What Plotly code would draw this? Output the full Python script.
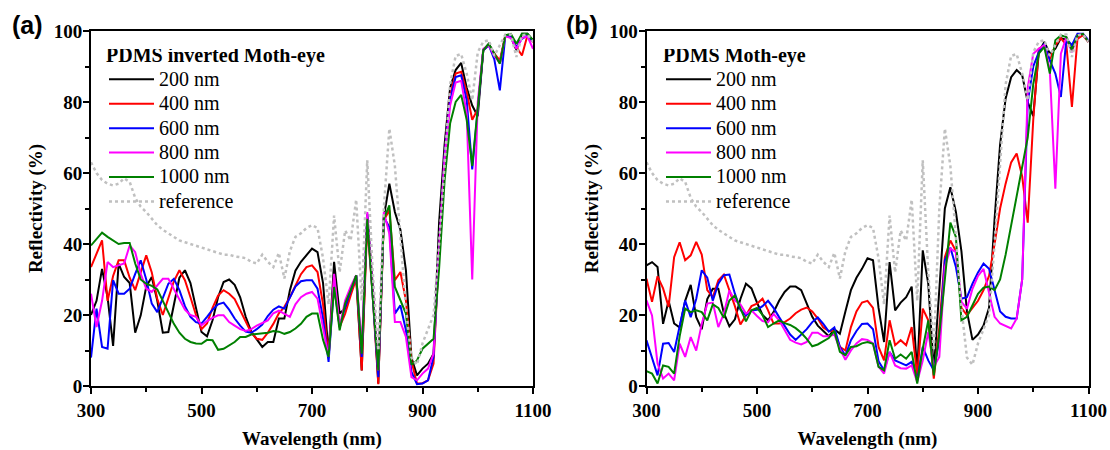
import plotly.graph_objects as go

wavelength = list(range(300, 1101, 10))

a_200 = [20, 24, 33, 25, 11.3, 34.5, 30.7, 29, 15, 19.9,
         28, 30.7, 24, 15, 15.2, 23, 30.5, 32.6, 29, 22,
         15.2, 14, 18.5, 25, 29.3, 30, 28.5, 25, 19.5, 15.3,
         13, 11, 12.4, 12.4, 19, 19, 27, 32.5, 35, 37,
         38.7, 37.7, 29, 9, 35, 20.4, 21.8, 26.5, 31.2, 4.4,
         48.5, 28, 0.7, 47.6, 57, 49, 44, 32.6, 8, 3,
         4.9, 6.3, 9.1, 46, 68, 84, 89, 91, 84, 79,
         76, 94.6, 96.4, 93.6, 91, 98.8, 98.3, 94.6, 99.2, 99.2,
         97.4]
a_400 = [33.5, 37, 41, 24, 31, 35.4, 35.4, 30.5, 27, 32,
         36.8, 32, 24.5, 20, 25, 29.5, 32.6, 29.8, 25, 20,
         16, 17.6, 22, 25.5, 27, 26, 24.5, 21.3, 18, 15,
         13.3, 13, 15, 17.5, 20.5, 22.3, 25, 28.5, 31.5, 33.5,
         34, 32.1, 23, 8, 30.7, 16.6, 20.4, 25.5, 30.2, 4.4,
         45.7, 25, 0.5, 46.7, 49.5, 29.8, 32.1, 24.1, 7, 0.7,
         0.8, 1.6, 6.3, 38, 65, 82, 88, 88.5, 82.8, 75,
         78, 94.6, 96, 93.6, 91.7, 98.8, 98.3, 95.5, 93.1, 98.8,
         96.9]
a_600 = [8, 21.8, 11, 10.5, 29.8, 26, 26, 27.4, 31.6, 35.4,
         30, 23.2, 20.8, 25, 28.8, 30.2, 27, 22.5, 19.5, 18,
         17.6, 19.5, 21.5, 23, 23.5, 21.5, 19, 17, 15.3, 15,
         16, 17.3, 19.7, 21.5, 22.4, 21.8, 25, 28, 29.5, 29.8,
         29.8, 27.4, 19, 6.8, 28.4, 16.6, 22.3, 27, 31.2, 8.2,
         48.5, 25, 2.5, 47.6, 44.8, 20.4, 22.7, 15.7, 4, 0.5,
         0.7, 1.6, 8.2, 38, 65, 81, 87, 87.5, 80.5, 61,
         78, 94.6, 96, 92, 83.3, 98.8, 98.3, 95.5, 97.8, 98.8,
         97]
a_800 = [26, 16.6, 24, 34.9, 33.5, 34, 34.5, 39.6, 37.7, 31.6,
         27.4, 26.5, 28.4, 30.2, 30.2, 27.4, 24.6, 21.5, 20, 19.5,
         17.1, 18.3, 19.2, 19.9, 19.9, 18, 17, 16, 15.5, 16,
         17, 17.8, 18.5, 20.5, 21.2, 20.3, 19.5, 23, 25, 26,
         26.5, 24.6, 16, 8.2, 31.6, 16.6, 24.1, 28, 31.2, 11,
         49, 27, 4.4, 49, 42.9, 18, 18, 13.8, 2.5, 1.6,
         3.5, 4.9, 9.1, 38, 64, 79, 85.5, 86, 76.7, 30,
         80, 95, 96, 93, 91, 98.5, 98, 95, 98, 98.5,
         95]
a_1000 = [39.6, 41.5, 43.2, 42, 41, 40, 40.3, 40.3, 34.5, 30,
          28.8, 28.2, 27.2, 24, 20.5, 17.5, 15, 13.3, 12.4, 12,
          11.9, 13, 12.9, 10.2, 10.5, 11.5, 12.4, 13.8, 13.8, 14.5,
          14.7, 14.7, 15, 15.5, 15.3, 14.7, 15.2, 16.2, 17.5, 19.5,
          20.4, 20.4, 13, 8.2, 27.9, 15.7, 23.2, 27, 31.2, 9.1,
          47.1, 25, 4.4, 47.1, 50.9, 27.9, 24.1, 20.4, 6, 7.2,
          10.5, 11.9, 13.3, 33, 58, 74, 80, 82, 75, 62,
          78, 94.6, 96.4, 93.6, 90.8, 98.8, 99.2, 96.4, 99.2, 99.2,
          97.4]
reference = [63, 60, 58, 57, 56.5, 57, 58.5, 57.5, 53, 50.5,
             49, 47, 45.3, 44, 43, 42, 41, 40.5, 40, 39.5,
             39, 38.5, 38.2, 37.5, 37, 37, 36.5, 36.3, 36, 35,
             34.5, 37, 35, 33.5, 37.5, 30.3, 38, 42, 43, 44.5,
             45.3, 44.5, 36, 23, 48, 32, 43.8, 41, 52.5, 24,
             63.6, 32, 10, 50, 72.5, 62, 43, 22, 8, 6,
             12, 16, 20, 40, 62, 85, 93, 93.5, 88, 80.5,
             94, 97, 97.4, 93, 96, 99, 99, 92.7, 98.8, 99,
             97]

b_200 = [34, 34.9, 33.5, 17.5, 24, 17.6, 16.5, 24, 28.5, 19.4,
         16, 24.5, 27.4, 27.4, 20.5, 16.8, 18.8, 24.5, 28.8, 27.5,
         23.5, 20, 18.5, 20.8, 24, 26.5, 28, 28, 27, 23,
         19.5, 17, 15.5, 14, 16, 14.7, 21, 27, 30.5, 33,
         36, 35.4, 22, 12.4, 34.9, 21.3, 23.5, 25, 28, 3.5,
         38.2, 28.8, 4.4, 27, 50, 56, 49, 38, 21, 13,
         14.5, 17, 22, 47, 68, 81, 87, 89, 87.5, 80,
         76, 94, 96.9, 93.6, 95, 98, 97.5, 95, 98.5, 99,
         97]
b_400 = [30.2, 23.7, 30.9, 27.5, 22.3, 36.3, 40.5, 35.4, 36.8, 40.6,
         37, 27, 25, 29.8, 31.4, 27, 22.5, 17.3, 19.9, 22.5,
         23.2, 24.6, 21.3, 17.6, 17.6, 18, 19, 20.5, 21.5, 22.1,
         21, 19, 16.5, 15.5, 15.5, 11, 10, 16.6, 21, 23.5,
         24, 22, 11, 7.2, 18.5, 11.5, 12.9, 11.5, 16.6, 3,
         21.8, 18.5, 2.1, 16.6, 36.3, 41, 38, 22, 20, 22,
         24, 27, 31, 40, 50, 57, 63, 65.5, 59, 46,
         75, 95, 96, 92, 96, 98, 96, 78.6, 97.8, 98.8,
         96.9]
b_600 = [12.9, 8.2, 3, 11.9, 12.1, 9.6, 16.6, 24.1, 19.4, 24.5,
         32.6, 30.5, 24, 28.8, 31.2, 31.4, 26, 21.5, 19.9, 21.3,
         21.5, 22.5, 24, 22, 19.4, 17, 14.5, 13, 14.5, 16,
         18, 19.3, 17.5, 15.3, 16.5, 11, 8.6, 12.9, 15.5, 17.5,
         17.6, 16, 7, 4.4, 9.6, 7.2, 6.5, 5.8, 6.8, 1.6,
         11, 7.2, 4.4, 13, 35.4, 39, 33.5, 24.6, 25, 28.8,
         32, 34.5, 33, 27, 21, 19.5, 19, 19, 30, 80,
         90, 94, 96.4, 91.7, 88, 81.4, 97.8, 96, 99.2, 99.2,
         97.4]
b_800 = [24.1, 19.9, 6.3, 2.1, 3.5, 1.6, 11.9, 8.2, 13.8, 10,
         17.5, 23.2, 23.5, 16.6, 20.4, 26.9, 24.1, 23, 20.4, 21.3,
         19.7, 18.3, 18, 20.3, 18.5, 15.7, 13, 12.2, 11.7, 12.4,
         15, 15, 14, 14, 14.5, 10.5, 7.4, 10, 12, 13.2,
         13, 12, 5.5, 3.5, 9.6, 5.8, 5, 4.9, 5.8, 1.1,
         7.2, 15.2, 5.4, 8.2, 33.5, 38.7, 37.7, 23.7, 21.8, 27.4,
         31, 33, 26, 19.5, 17.6, 16.8, 16.2, 19, 30, 84,
         93.6, 95, 96, 89, 55.6, 93.6, 98.3, 94, 98.8, 99.2,
         96.9]
b_1000 = [4.2, 3.5, 0.7, 5.8, 5.4, 3.5, 14, 21.8, 20.8, 21.3,
          20.8, 18.5, 23, 22, 19.2, 24.1, 25.5, 22, 18.2, 21.3,
          22, 20, 16.6, 17.6, 18.5, 17.7, 17.2, 16.3, 15, 13.3,
          11.2, 11.7, 12.5, 13.5, 15.5, 9.6, 8.7, 11, 11.2, 12,
          12.4, 11.9, 5.4, 4.4, 12.9, 7.7, 8.9, 7.7, 9.6, 0.7,
          10.5, 18.5, 3, 14.7, 30, 46, 42, 18.5, 19.5, 23,
          26, 27.7, 28, 27, 30, 37, 45, 53, 62, 70,
          85, 93.6, 95.5, 88, 97.4, 98.8, 98.3, 94.6, 98.8, 99.2,
          96.9]

series_names = ["200 nm", "400 nm", "600 nm", "800 nm", "1000 nm"]
colors = ["#000000", "#ff0000", "#0000ff", "#ff00ff", "#008000"]
panel_a = [a_200, a_400, a_600, a_800, a_1000]
panel_b = [b_200, b_400, b_600, b_800, b_1000]

SERIF = "Liberation Serif"
LEG_TXT = '<span style="font-size:20px">{}</span>'
TITLE_TXT = '<span style="font-size:20px">{}</span>'

fig = go.Figure()
for panel, xa, ya, leg in [(panel_a, "x", "y", "legend"), (panel_b, "x2", "y2", "legend2")]:
    for name, col, vals in zip(series_names, colors, panel):
        fig.add_trace(go.Scatter(x=wavelength, y=vals, mode="lines", name=LEG_TXT.format(name),
                                 line=dict(color=col, width=2), xaxis=xa, yaxis=ya,
                                 legend=leg))
    fig.add_trace(go.Scatter(x=wavelength, y=reference, mode="lines",
                             name=LEG_TXT.format("reference"),
                             line=dict(color="#c0c0c0", width=2.5, dash="dot"),
                             xaxis=xa, yaxis=ya, legend=leg))

W, H = 1110, 450
ax_common = dict(showline=True, linewidth=2, linecolor="black", mirror=True,
                 ticks="outside", ticklen=6, tickwidth=2, tickcolor="black",
                 showgrid=False, zeroline=False,
                 tickfont=dict(family=SERIF, size=19, color="black", weight="bold"),
                 title_font=dict(family=SERIF, size=19, color="black", weight="bold"))
xcommon = dict(ax_common, range=[300, 1100], tick0=300, dtick=200,
               minor=dict(dtick=100, tick0=300, ticklen=4, tickwidth=2, ticks="outside", tickcolor="black"),
               title_text="Wavelength (nm)", title_standoff=12)
ycommon = dict(ax_common, range=[0, 100], tick0=0, dtick=20, ticklabelstandoff=-3,
               minor=dict(dtick=10, tick0=0, ticklen=4, tickwidth=2, ticks="outside", tickcolor="black"),
               title_text="Reflectivity (%)", title_standoff=6)

ydom = [(H - 386) / H, (H - 31) / H]
legend_common = dict(xanchor="left", yanchor="top", bgcolor="rgba(0,0,0,0)", borderwidth=0,
                     itemwidth=45, font=dict(family=SERIF, size=16.5, color="black"))
title_font = dict(family=SERIF, size=10, color="black", weight="bold")
fig.update_layout(
    width=W, height=H, template="none",
    paper_bgcolor="white", plot_bgcolor="white",
    margin=dict(l=0, r=0, t=0, b=0),
    showlegend=True,
    xaxis=dict(xcommon, domain=[91 / W, 533 / W], anchor="y"),
    yaxis=dict(ycommon, domain=ydom, anchor="x"),
    xaxis2=dict(xcommon, domain=[646.5 / W, 1088.5 / W], anchor="y2"),
    yaxis2=dict(ycommon, domain=ydom, anchor="x2"),
    legend=dict(legend_common, x=104 / W, y=(H - 49) / H,
                title=dict(text=TITLE_TXT.format("PDMS inverted Moth-eye"), font=title_font)),
    legend2=dict(legend_common, x=661 / W, y=(H - 49) / H,
                 title=dict(text=TITLE_TXT.format("PDMS Moth-eye"), font=title_font)),
    annotations=[
        dict(text="(a)", x=27.5 / W, y=(H - 25) / H, xref="paper", yref="paper",
             xanchor="center", yanchor="middle", showarrow=False,
             font=dict(family="Liberation Sans", size=25, color="black", weight="bold")),
        dict(text="(b)", x=582 / W, y=(H - 25) / H, xref="paper", yref="paper",
             xanchor="center", yanchor="middle", showarrow=False,
             font=dict(family="Liberation Sans", size=25, color="black", weight="bold")),
    ],
)

fig.write_html("out.html")
